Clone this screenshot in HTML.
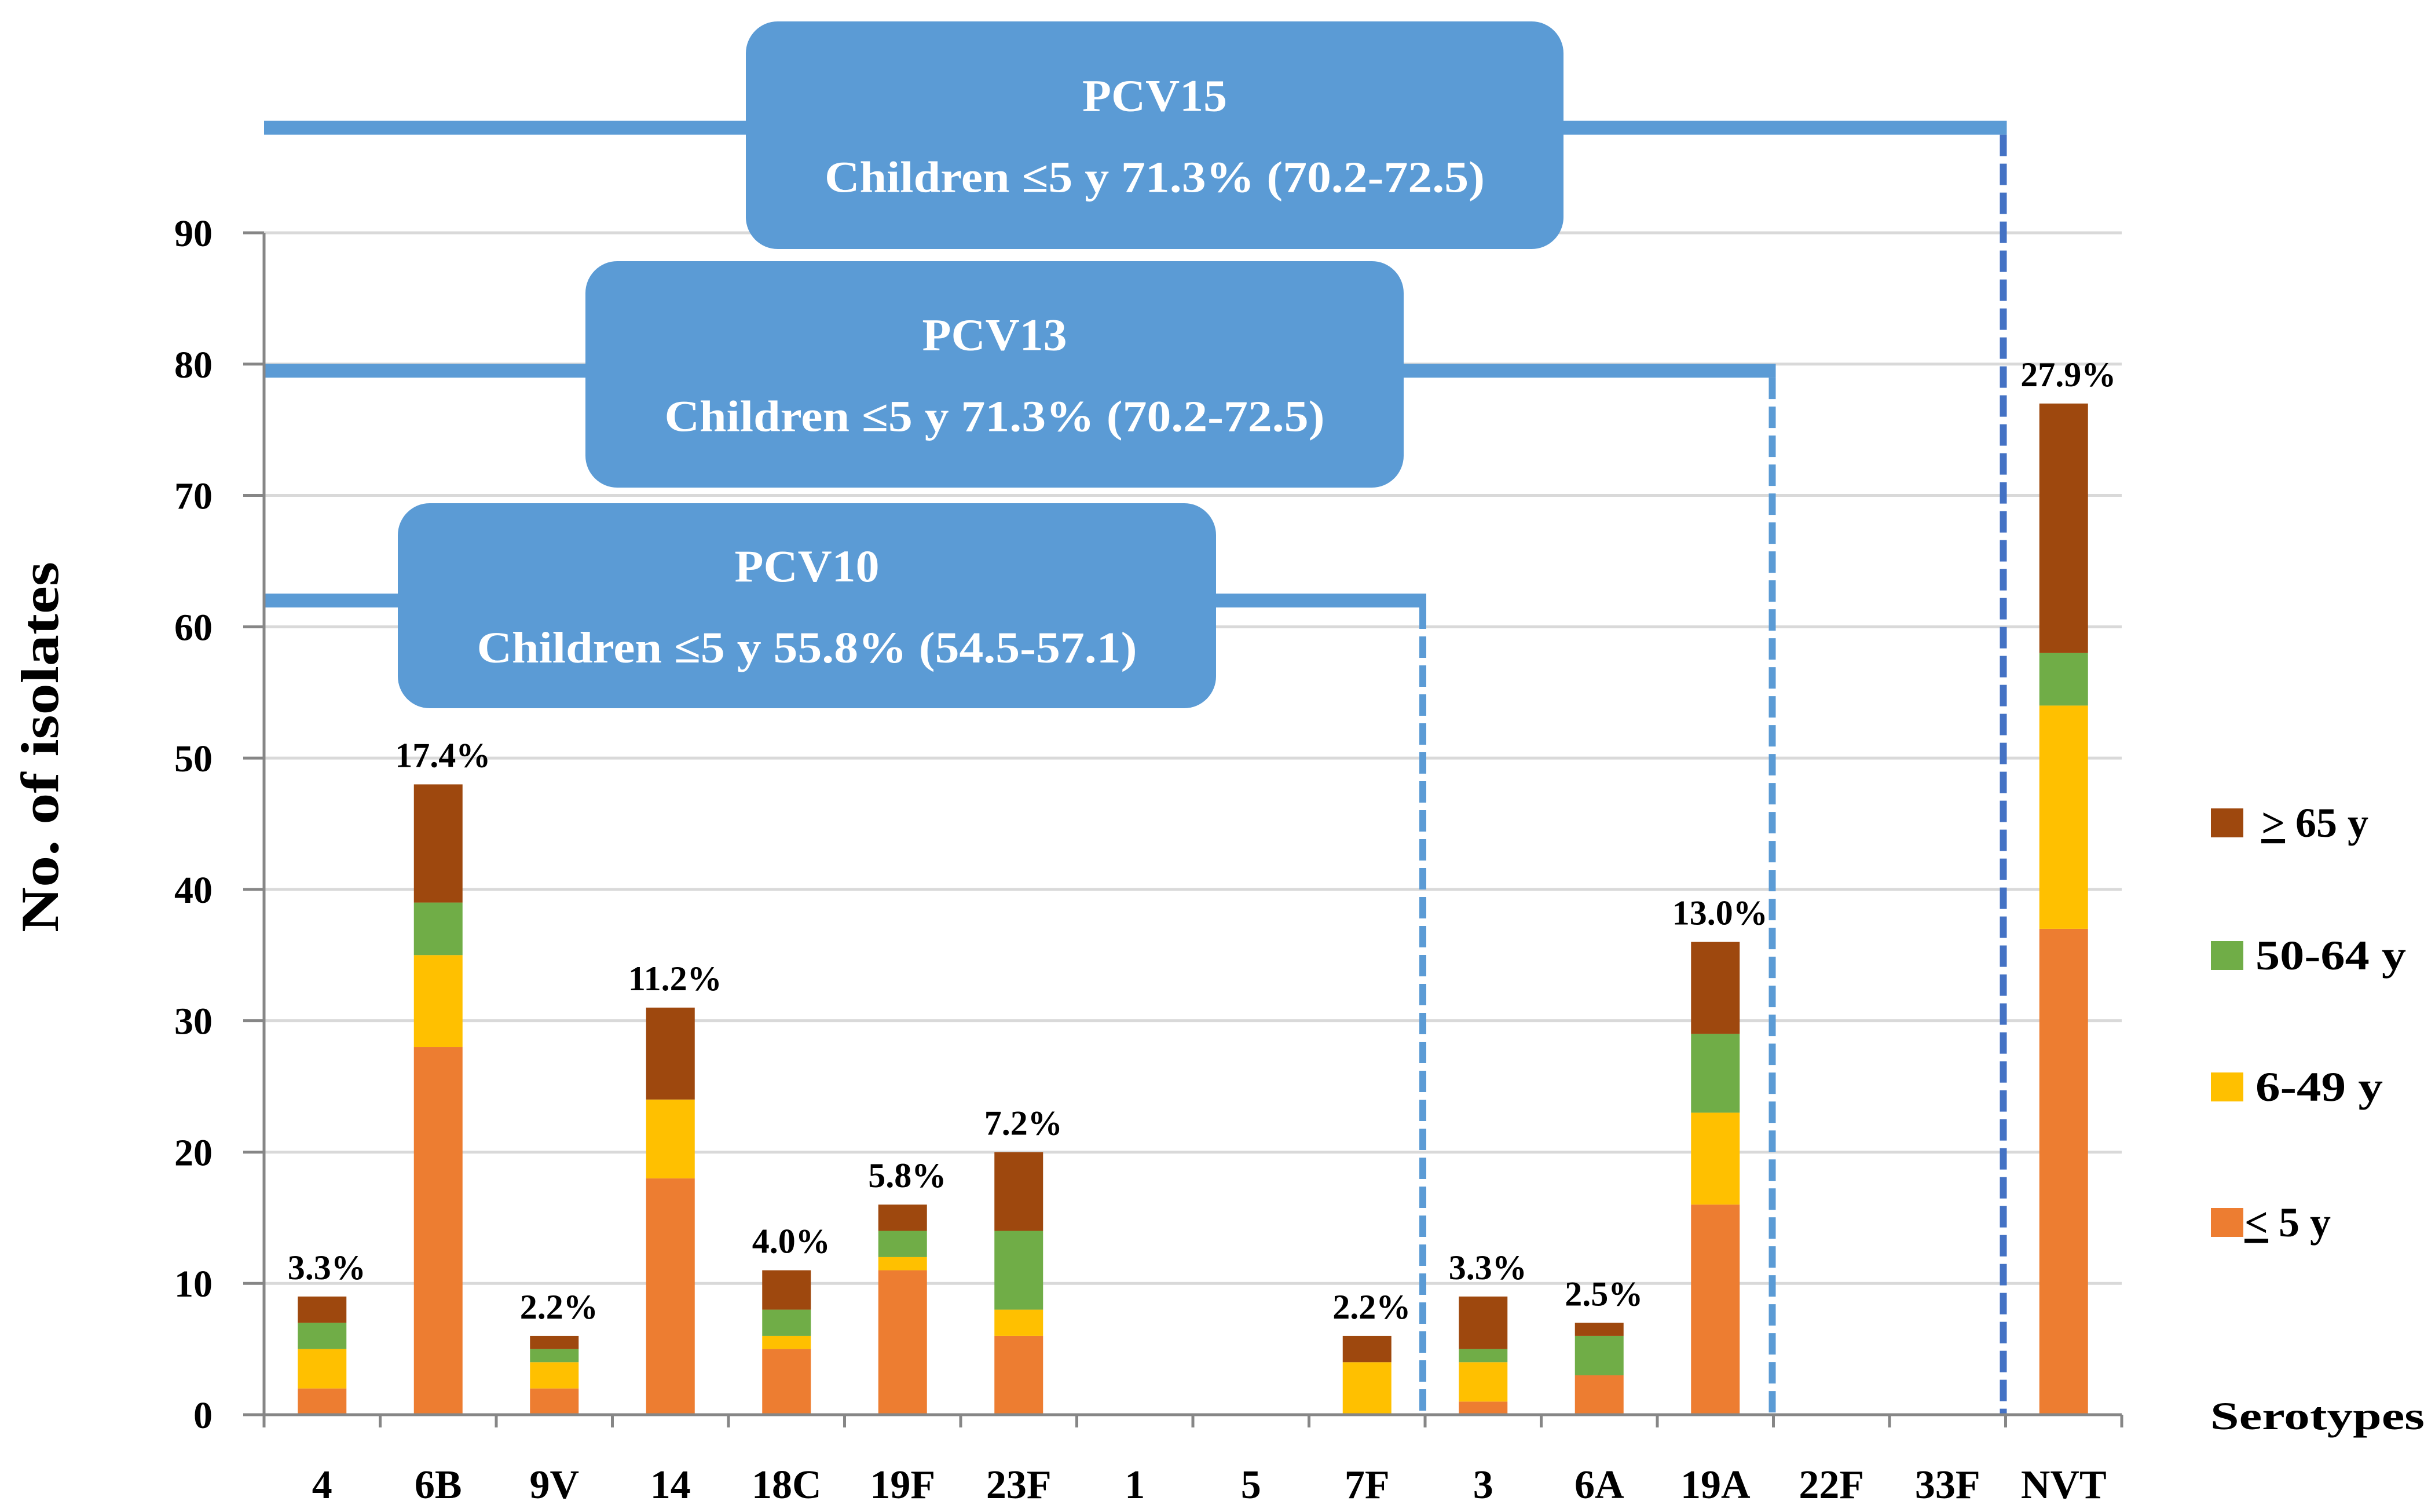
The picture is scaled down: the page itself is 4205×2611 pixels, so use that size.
<!DOCTYPE html>
<html><head><meta charset="utf-8">
<style>
html,body{margin:0;padding:0;background:#fff;}
svg{display:block;}
text{font-family:"Liberation Serif",serif;font-weight:bold;}
</style></head>
<body>
<svg id="chart" width="4205" height="2611" viewBox="0 0 4205 2611" xmlns="http://www.w3.org/2000/svg">
<g id="grid"></g>
<g id="brackets"></g>
<g id="bars"></g>
<g id="axes"></g>
<g id="boxes"></g>
<text transform="translate(100,1290) rotate(-90)" text-anchor="middle" font-size="92" fill="#000" textLength="640" lengthAdjust="spacingAndGlyphs">No. of isolates</text>
<text x="3817" y="2468" font-size="68" fill="#000" textLength="370" lengthAdjust="spacingAndGlyphs">Serotypes</text>
<g>
 <rect x="3818" y="1396" width="56" height="50" fill="#9e480e"/>
 <text x="3905" y="1445" font-size="72" fill="#000"><tspan text-decoration="underline">&gt;</tspan> 65 y</text>
 <rect x="3818" y="1625" width="56" height="50" fill="#70ad47"/>
 <text x="3895" y="1674" font-size="72" fill="#000" textLength="260" lengthAdjust="spacingAndGlyphs">50-64 y</text>
 <rect x="3818" y="1852" width="56" height="50" fill="#ffc000"/>
 <text x="3895" y="1901" font-size="72" fill="#000" textLength="220" lengthAdjust="spacingAndGlyphs">6-49 y</text>
 <rect x="3818" y="2086" width="56" height="50" fill="#ed7d31"/>
 <text x="3876" y="2135" font-size="72" fill="#000"><tspan text-decoration="underline">&lt;</tspan> 5 y</text>
</g>
</svg>
<script>
const categories = ["4","6B","9V","14","18C","19F","23F","1","5","7F","3","6A","19A","22F","33F","NVT"];
const under5  = [2,28,2,18,5,11,6,0,0,0,1,3,16,0,0,37];
const age6to49 = [3,7,2,6,1,1,2,0,0,4,3,0,7,0,0,17];
const age50to64 = [2,4,1,0,2,2,6,0,0,0,1,3,6,0,0,4];
const age65plus = [2,9,1,7,3,2,6,0,0,2,4,1,7,0,0,19];
const pctLabels = ["3.3%","17.4%","2.2%","11.2%","4.0%","5.8%","7.2%","","","2.2%","3.3%","2.5%","13.0%","","","27.9%"];
const yTicks = [0,10,20,30,40,50,60,70,80,90];
const bracketLevels = [98, 79.5, 62];

const NS="http://www.w3.org/2000/svg";
const X0=456, X1=3664, Y0=2443, Y90=402;
const yScale = v => Y0 - (Y0-Y90)*v/90;
const band = (X1-X0)/categories.length;
const xCenter = i => X0 + band*(i+0.5);
function mk(parent, tag, attrs){const e=document.createElementNS(NS,tag);for(const k in attrs)e.setAttribute(k,attrs[k]);parent.appendChild(e);return e;}

const grid=document.getElementById('grid');
yTicks.forEach(t=>{
  if(t>0){const l=mk(grid,'line',{x1:X0,x2:X1,y1:yScale(t),y2:yScale(t),stroke:'#d9d9d9','stroke-width':5});
  
  }
});

const axes=document.getElementById('axes');
const ya=mk(axes,'line',{x1:X0,x2:X0,y1:Y90,y2:Y0,stroke:'#868686','stroke-width':5});


const xa=mk(axes,'line',{x1:X0,x2:X1,y1:Y0,y2:Y0,stroke:'#868686','stroke-width':5});


yTicks.forEach(t=>{
  const tk=mk(axes,'line',{x1:X0-36,x2:X0,y1:yScale(t),y2:yScale(t),stroke:'#868686','stroke-width':5});
  
  
  const tx=mk(axes,'text',{x:367,y:yScale(t)+23,'text-anchor':'end','font-size':66,fill:'#000'});
  tx.textContent=t;
  
  
});
for(let i=0;i<=categories.length;i++){
  const x=X0+band*i;
  const tk=mk(axes,'line',{x1:x,x2:x,y1:Y0,y2:Y0+22,stroke:'#868686','stroke-width':5});
  
  
}
categories.forEach((c,i)=>{
  const tx=mk(axes,'text',{x:xCenter(i),y:2587,'text-anchor':'middle','font-size':70,fill:'#000'});
  tx.textContent=c;
  
  
});

const bars=document.getElementById('bars');
const series=[[under5,'#ed7d31','under5'],[age6to49,'#ffc000','6-49'],[age50to64,'#70ad47','50-64'],[age65plus,'#9e480e','65plus']];
const BW=84;
categories.forEach((c,i)=>{
  let cum=0;
  series.forEach(([arr,col,nm])=>{
    const v=arr[i];
    if(v>0){
      const r=mk(bars,'rect',{x:xCenter(i)-BW/2,y:yScale(cum+v),width:BW,height:yScale(cum)-yScale(cum+v),fill:col});
      
      
    }
    cum+=v;
  });
  if(pctLabels[i]){
    const tx=mk(bars,'text',{x:xCenter(i)+8,y:yScale(cum)-30,'text-anchor':'middle','font-size':60,fill:'#000'});
    tx.textContent=pctLabels[i];
    
    
  }
});

const br=document.getElementById('brackets');
const bracketEnds=[X0+band*15-4, X0+band*13-2, X0+band*10-4];
const vColors=['#4472c4','#5b9bd5','#5b9bd5'];
const bNames=['pcv15','pcv13','pcv10'];
bracketLevels.forEach((lv,k)=>{
  const y=yScale(lv);
  const h=mk(br,'line',{x1:X0,x2:bracketEnds[k]+6,y1:y,y2:y,stroke:'#5b9bd5','stroke-width':24});
  
  
  const v=mk(br,'line',{x1:bracketEnds[k],x2:bracketEnds[k],y1:y+12,y2:Y0,stroke:vColors[k],'stroke-width':12,'stroke-dasharray':'37 13'});
  
  
});

const boxes=document.getElementById('boxes');
const boxDefs=[
  ['PCV15','Children \u22645 y 71.3% (70.2-72.5)',1288,37,1412,393],
  ['PCV13','Children \u22645 y 71.3% (70.2-72.5)',1011,451,1413,391],
  ['PCV10','Children \u22645 y 55.8% (54.5-57.1)',687,869,1413,354]
];
boxDefs.forEach(([t,s,x,y,w,h])=>{
  const g=mk(boxes,'g',{});
  
  
  mk(g,'rect',{x:x,y:y,width:w,height:h,rx:55,ry:55,fill:'#5b9bd5'});
  const cx=x+w/2, cy=y+h/2;
  const t1=mk(g,'text',{x:cx,y:cy-70+28,'text-anchor':'middle','font-size':78,fill:'#fff',textLength:250,lengthAdjust:'spacingAndGlyphs'});
  t1.textContent=t;
  
  
  const t2=mk(g,'text',{x:cx,y:cy+70+28,'text-anchor':'middle','font-size':76,fill:'#fff',textLength:1140,lengthAdjust:'spacingAndGlyphs'});
  t2.textContent=s;
  
  
});
</script>
</body></html>
